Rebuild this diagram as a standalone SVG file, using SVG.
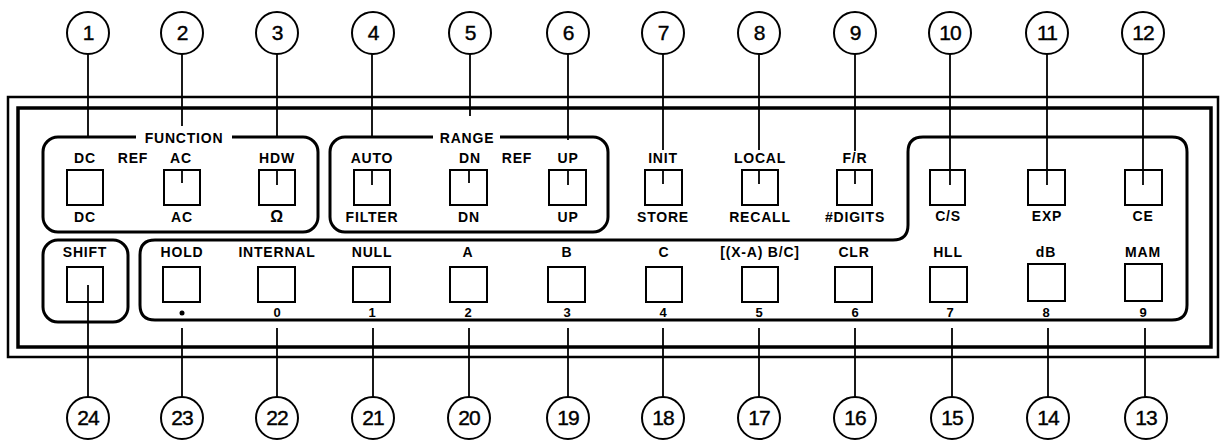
<svg xmlns="http://www.w3.org/2000/svg" width="1223" height="443" viewBox="0 0 1223 443">
<style>
.bg{fill:#fff}
.frame{fill:none;stroke:#000}
.grp{fill:none;stroke:#000;stroke-width:3}
.key{fill:#fff;stroke:#000;stroke-width:2}
.lbl{font-family:"Liberation Sans",Arial,sans-serif;font-weight:bold;font-size:14px;letter-spacing:0.8px;text-anchor:middle;fill:#000}
.num{font-family:"Liberation Sans",Arial,sans-serif;font-weight:bold;font-size:13px;text-anchor:middle;fill:#000}
.cnum{font-family:"Liberation Sans",Arial,sans-serif;font-size:21px;text-anchor:middle;fill:#000;letter-spacing:-1px;stroke:#000;stroke-width:0.4}
.callout circle{fill:#fff;stroke:#000;stroke-width:2}
.conn line{stroke:#000;stroke-width:1.8}
</style>
<rect class="bg" x="0" y="0" width="1223" height="443"/>
<g id="panel">
<rect class="frame" x="8" y="97" width="1210" height="260" stroke-width="2.5"/>
<rect class="frame" x="18" y="108" width="1193" height="239" stroke-width="3.5"/>
</g>
<g id="group-function">
<rect class="grp" x="43" y="137" width="275" height="95" rx="15"/>
<rect class="bg" x="136" y="130" width="96" height="14"/>
<text class="lbl" x="184" y="143">FUNCTION</text>
<text class="lbl" x="133" y="163">REF</text>
</g>
<g id="group-range">
<rect class="grp" x="330" y="137" width="278" height="95" rx="15"/>
<rect class="bg" x="433" y="130" width="67" height="14"/>
<text class="lbl" x="467" y="143">RANGE</text>
<text class="lbl" x="517" y="163">REF</text>
</g>
<g id="group-keypad">
<path class="grp" d="M155,240 H893 Q908,240 908,225 V152 Q908,137 923,137 H1172 Q1187,137 1187,152 V305 Q1187,320 1172,320 H155 Q140,320 140,305 V255 Q140,240 155,240 Z"/>
</g>
<g id="group-shift">
<rect class="grp" x="43" y="240" width="85" height="82" rx="15"/>
</g>
<g id="k1"><rect class="key" x="67" y="170" width="36" height="35"/><text class="lbl" x="85" y="163">DC</text><text class="lbl" x="85" y="222">DC</text></g>
<g id="k2"><rect class="key" x="164" y="170" width="36" height="35"/><text class="lbl" x="181" y="163">AC</text><text class="lbl" x="182" y="222">AC</text></g>
<g id="k3"><rect class="key" x="259" y="170" width="36" height="35"/><text class="lbl" x="277" y="163">HDW</text><text class="lbl" x="277" y="222" style="font-size:16px">Ω</text></g>
<g id="k4"><rect class="key" x="354" y="170" width="36" height="35"/><text class="lbl" x="372" y="163">AUTO</text><text class="lbl" x="372" y="222">FILTER</text></g>
<g id="k5"><rect class="key" x="450" y="170" width="37" height="35"/><text class="lbl" x="470" y="163">DN</text><text class="lbl" x="469" y="222">DN</text></g>
<g id="k6"><rect class="key" x="549" y="170" width="37" height="35"/><text class="lbl" x="568" y="163">UP</text><text class="lbl" x="568" y="222">UP</text></g>
<g id="k7"><rect class="key" x="645" y="170" width="37" height="35"/><text class="lbl" x="663" y="163">INIT</text><text class="lbl" x="663" y="222">STORE</text></g>
<g id="k8"><rect class="key" x="742" y="170" width="36" height="35"/><text class="lbl" x="760" y="163">LOCAL</text><text class="lbl" x="760" y="222">RECALL</text></g>
<g id="k9"><rect class="key" x="837" y="170" width="35" height="35"/><text class="lbl" x="855" y="163">F/R</text><text class="lbl" x="855" y="222">#DIGITS</text></g>
<g id="k10"><rect class="key" x="930" y="170" width="35" height="35"/><text class="lbl" x="948" y="221">C/S</text></g>
<g id="k11"><rect class="key" x="1028" y="170" width="37" height="35"/><text class="lbl" x="1047" y="221">EXP</text></g>
<g id="k12"><rect class="key" x="1125" y="170" width="37" height="35"/><text class="lbl" x="1143" y="221">CE</text></g>
<g id="k24"><rect class="key" x="67" y="267" width="36" height="35"/><text class="lbl" x="85" y="257">SHIFT</text></g>
<g id="k23"><rect class="key" x="163" y="267" width="37" height="35"/><text class="lbl" x="182" y="257">HOLD</text><circle cx="182" cy="313" r="2.5" fill="#000"/></g>
<g id="k22"><rect class="key" x="258" y="267" width="37" height="35"/><text class="lbl" x="277" y="257">INTERNAL</text><text class="num" x="277" y="317">0</text></g>
<g id="k21"><rect class="key" x="353" y="267" width="37" height="35"/><text class="lbl" x="372" y="257">NULL</text><text class="num" x="372" y="317">1</text></g>
<g id="k20"><rect class="key" x="450" y="267" width="37" height="35"/><text class="lbl" x="468" y="257">A</text><text class="num" x="468" y="317">2</text></g>
<g id="k19"><rect class="key" x="548" y="267" width="37" height="35"/><text class="lbl" x="567" y="257">B</text><text class="num" x="567" y="317">3</text></g>
<g id="k18"><rect class="key" x="646" y="267" width="36" height="35"/><text class="lbl" x="664" y="257">C</text><text class="num" x="663" y="317">4</text></g>
<g id="k17"><rect class="key" x="742" y="267" width="36" height="35"/><text class="lbl" x="760" y="257">[(X-A) B/C]</text><text class="num" x="759" y="317">5</text></g>
<g id="k16"><rect class="key" x="835" y="267" width="37" height="35"/><text class="lbl" x="854" y="257">CLR</text><text class="num" x="855" y="317">6</text></g>
<g id="k15"><rect class="key" x="930" y="267" width="37" height="35"/><text class="lbl" x="948" y="257">HLL</text><text class="num" x="950" y="317">7</text></g>
<g id="k14"><rect class="key" x="1028" y="264" width="37" height="37"/><text class="lbl" x="1046" y="257">dB</text><text class="num" x="1046" y="317">8</text></g>
<g id="k13"><rect class="key" x="1125" y="264" width="37" height="37"/><text class="lbl" x="1143" y="257">MAM</text><text class="num" x="1143" y="317">9</text></g>
<g id="connectors" class="conn">
<line x1="88" y1="54" x2="88" y2="137"/>
<line x1="182" y1="54" x2="182" y2="126"/><line x1="182" y1="170" x2="182" y2="183"/>
<line x1="277" y1="54" x2="277" y2="137"/><line x1="277" y1="170" x2="277" y2="185"/>
<line x1="372" y1="54" x2="372" y2="137"/><line x1="372" y1="170" x2="372" y2="185"/>
<line x1="470" y1="54" x2="470" y2="116"/><line x1="469" y1="170" x2="469" y2="183"/>
<line x1="568" y1="54" x2="568" y2="140"/><line x1="568" y1="170" x2="568" y2="185"/>
<line x1="663" y1="54" x2="663" y2="150"/><line x1="663" y1="170" x2="663" y2="184"/>
<line x1="759" y1="54" x2="759" y2="150"/><line x1="759" y1="170" x2="759" y2="184"/>
<line x1="855" y1="54" x2="855" y2="151"/><line x1="855" y1="170" x2="855" y2="184"/>
<line x1="950" y1="54" x2="950" y2="185"/>
<line x1="1047" y1="54" x2="1047" y2="185"/>
<line x1="1143" y1="54" x2="1143" y2="185"/>
<line x1="88" y1="285" x2="88" y2="397"/>
<line x1="182" y1="328" x2="182" y2="397"/>
<line x1="277" y1="328" x2="277" y2="397"/>
<line x1="373" y1="328" x2="373" y2="397"/>
<line x1="469" y1="328" x2="469" y2="397"/>
<line x1="568" y1="328" x2="568" y2="397"/>
<line x1="663" y1="328" x2="663" y2="397"/>
<line x1="759" y1="328" x2="759" y2="397"/>
<line x1="855" y1="328" x2="855" y2="397"/>
<line x1="952" y1="328" x2="952" y2="397"/>
<line x1="1048" y1="328" x2="1048" y2="397"/>
<line x1="1145" y1="328" x2="1145" y2="397"/>
</g>
<g id="callouts" class="callout">
<g id="c1"><circle cx="88" cy="33" r="21"/><text class="cnum" x="88" y="40">1</text></g>
<g id="c2"><circle cx="182" cy="33" r="21"/><text class="cnum" x="182" y="40">2</text></g>
<g id="c3"><circle cx="277" cy="33" r="21"/><text class="cnum" x="277" y="40">3</text></g>
<g id="c4"><circle cx="373" cy="33" r="21"/><text class="cnum" x="373" y="40">4</text></g>
<g id="c5"><circle cx="470" cy="33" r="21"/><text class="cnum" x="470" y="40">5</text></g>
<g id="c6"><circle cx="568" cy="33" r="21"/><text class="cnum" x="568" y="40">6</text></g>
<g id="c7"><circle cx="663" cy="33" r="21"/><text class="cnum" x="663" y="40">7</text></g>
<g id="c8"><circle cx="759" cy="33" r="21"/><text class="cnum" x="759" y="40">8</text></g>
<g id="c9"><circle cx="855" cy="33" r="21"/><text class="cnum" x="855" y="40">9</text></g>
<g id="c10"><circle cx="950" cy="33" r="21"/><text class="cnum" x="950" y="40">10</text></g>
<g id="c11"><circle cx="1047" cy="33" r="21"/><text class="cnum" x="1047" y="40">11</text></g>
<g id="c12"><circle cx="1143" cy="33" r="21"/><text class="cnum" x="1143" y="40">12</text></g>
<g id="c24"><circle cx="88" cy="418" r="21"/><text class="cnum" x="88" y="425">24</text></g>
<g id="c23"><circle cx="182" cy="418" r="21"/><text class="cnum" x="182" y="425">23</text></g>
<g id="c22"><circle cx="277" cy="418" r="21"/><text class="cnum" x="277" y="425">22</text></g>
<g id="c21"><circle cx="373" cy="418" r="21"/><text class="cnum" x="373" y="425">21</text></g>
<g id="c20"><circle cx="469" cy="418" r="21"/><text class="cnum" x="469" y="425">20</text></g>
<g id="c19"><circle cx="568" cy="418" r="21"/><text class="cnum" x="568" y="425">19</text></g>
<g id="c18"><circle cx="663" cy="418" r="21"/><text class="cnum" x="663" y="425">18</text></g>
<g id="c17"><circle cx="759" cy="418" r="21"/><text class="cnum" x="759" y="425">17</text></g>
<g id="c16"><circle cx="855" cy="418" r="21"/><text class="cnum" x="855" y="425">16</text></g>
<g id="c15"><circle cx="952" cy="418" r="21"/><text class="cnum" x="952" y="425">15</text></g>
<g id="c14"><circle cx="1048" cy="418" r="21"/><text class="cnum" x="1048" y="425">14</text></g>
<g id="c13"><circle cx="1146" cy="418" r="21"/><text class="cnum" x="1146" y="425">13</text></g>
</g>
</svg>
